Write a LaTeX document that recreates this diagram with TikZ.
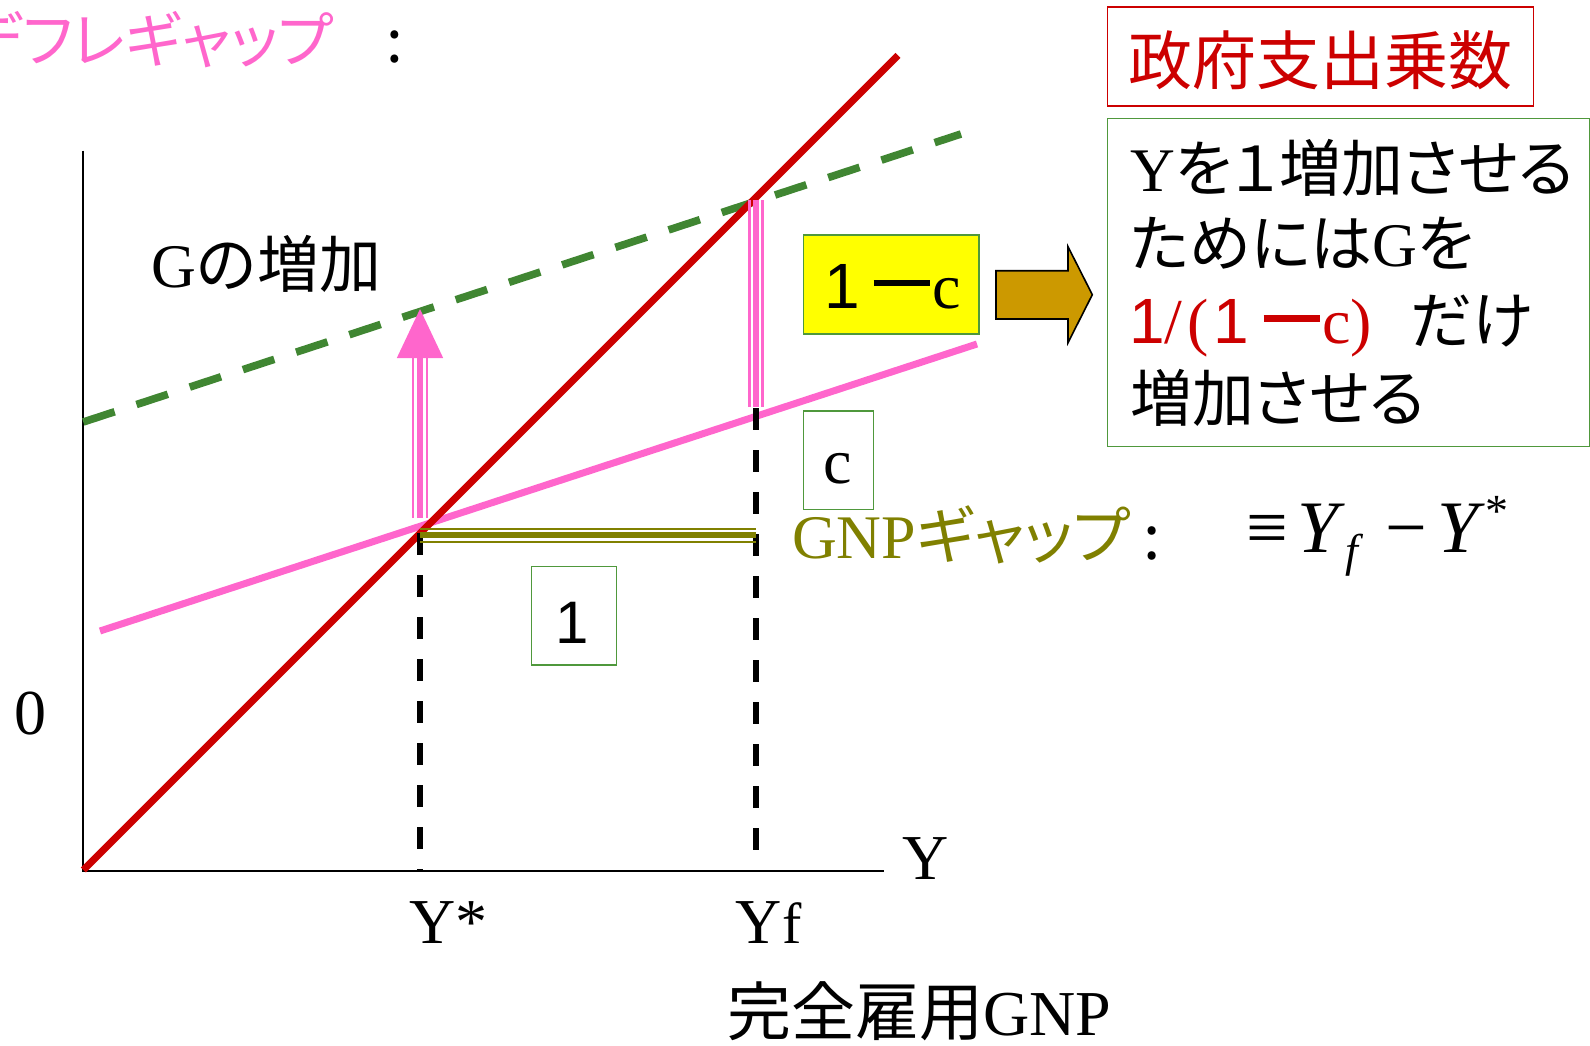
\documentclass[tikz,border=0pt]{standalone}
\usepackage{fontspec}
\setmainfont{Liberation Serif}
\newfontfamily\jp{Noto Sans CJK JP}
\newfontfamily\jpp[RawFeature=+palt]{Noto Sans CJK JP}
\newfontfamily\arial{Liberation Sans}
\newcommand{\longbar}{\hspace{0.22em}\rule[0.34em]{0.88em}{0.1em}\hspace{0.04em}}
\definecolor{cRed}{RGB}{204,0,0}
\definecolor{cGreen}{RGB}{64,134,50}
\definecolor{cPink}{RGB}{255,102,204}
\definecolor{cOlive}{RGB}{128,128,0}
\definecolor{cBoxGreen}{RGB}{79,152,60}
\definecolor{cYellow}{RGB}{255,255,0}
\definecolor{cBrown}{RGB}{204,153,0}
\begin{document}
\begin{tikzpicture}[x=0.5pt,y=-0.5pt,
  axisline/.style={line width=0.9pt,black},
  redline/.style={line width=3.5pt,cRed},
  greendash/.style={line width=3.8pt,cGreen,dash pattern=on 16.5pt off 11.5pt},
  pinkline/.style={line width=3.5pt,cPink},
  blackdash/.style={line width=3.2pt,black,dash pattern=on 11pt off 10pt},
  pinkmid/.style={line width=3.1pt,cPink},
  pinkthin/.style={line width=1.2pt,cPink},
  olivethin/.style={line width=1.2pt,cOlive},
  olivethick/.style={line width=2.7pt,cOlive},
  gbox/.style={draw=cBoxGreen,line width=0.7pt,inner sep=0pt,rectangle},
  lbl/.style={inner sep=0pt,outer sep=0pt},
  f30/.style={font=\fontsize{30}{34}\selectfont},
  f31/.style={font=\fontsize{31}{35}\selectfont},
  f32/.style={font=\fontsize{32}{36}\selectfont},
]
\useasboundingbox (0,0) rectangle (1590,1045);

% coordinates
\coordinate (O) at (83.3,870.7);
\coordinate (yTop) at (83.3,150.7);
\coordinate (xEnd) at (884,870.7);
\coordinate (redA) at (83.3,870);
\coordinate (redB) at (898,55.3);
\coordinate (grA) at (83.3,422);
\coordinate (grB) at (961,134);
\coordinate (pkA) at (100,631);
\coordinate (pkB) at (977,344);
\coordinate (ysTop) at (420,533);
\coordinate (ysBot) at (420,870);
\coordinate (yfTop) at (756,408);
\coordinate (yfBot) at (756,870);
\coordinate (gapL) at (420,535);
\coordinate (gapR) at (756,535);
\coordinate (arrB) at (420,518);
\coordinate (arrH) at (420,358);
\coordinate (arrT) at (420,309);
\coordinate (indT) at (756,200);
\coordinate (indB) at (756,407);

% axes
\draw[axisline] (yTop) -- (O) -- (xEnd);

% curves
\draw[greendash] (grA) -- (grB);
\draw[pinkline] (pkA) -- (pkB);
\draw[redline] (redA) -- (redB);

% black dashed verticals
\draw[blackdash] (ysTop) -- (ysBot);
\draw[blackdash] (yfTop) -- (yfBot);

% GNP gap bars
\draw[olivethin] ([yshift=3.1pt]gapL) -- ([yshift=3.1pt]gapR);
\draw[olivethick] (gapL) -- (gapR);
\draw[olivethin] ([yshift=-3.4pt]gapL) -- ([yshift=-3.4pt]gapR);

% pink arrow (G increase)
\draw[pinkmid] (arrB) -- (arrH);
\draw[pinkthin] ([xshift=-3.4pt]arrB) -- ([xshift=-3.4pt]arrH);
\draw[pinkthin] ([xshift=3.4pt]arrB) -- ([xshift=3.4pt]arrH);
\fill[cPink] (arrT) -- ([xshift=-11.6pt]arrH) -- ([xshift=11.6pt]arrH) -- cycle;

% pink indicator at Yf
\draw[pinkmid] (indT) -- (indB);
\draw[pinkthin] ([xshift=-3.3pt]indT) -- ([xshift=-3.3pt]indB);
\draw[pinkthin] ([xshift=3.2pt]indT) -- ([xshift=3.2pt]indB);

% boxes
\node[gbox,minimum width=42.5pt,minimum height=49.2pt] (boxOne) at (574.2,615.8) {};
\node[lbl,f30,anchor=base] (txtOne) at (572,643) {\arial 1};
\node[gbox,minimum width=35pt,minimum height=49.2pt] (boxC) at (838.3,460.2) {};
\node[lbl,f32,anchor=base] (txtC) at (838,483) {c};
\node[gbox,fill=cYellow,minimum width=87.8pt,minimum height=49.5pt] (boxOmc) at (891.2,284.5) {};
\node[lbl,f32,anchor=base west] (txtOmc) at (824,308) {{\arial 1}\longbar c};

% brown block arrow
\draw[fill=cBrown,draw=black,line width=0.8pt,line join=miter]
  (996,270.7) -- (1068,270.7) -- (1068,246.7) -- (1092.3,294.7) -- (1068,342.7) -- (1068,319) -- (996,319) -- cycle;

% right-hand boxes
\node[draw=cRed,line width=0.8pt,inner sep=0pt,minimum width=213pt,minimum height=49.65pt] (redBox) at (1320.3,56.35) {};
\node[lbl,font=\fontsize{32}{36}\selectfont\jp,text=cRed] (seifu) at (1320,60.5) {政府支出乗数};
\node[gbox,minimum width=241pt,minimum height=164.2pt] (greenBox) at (1348.3,282.5) {};
\node[lbl,f31,anchor=base west] (line1) at (1130,191.7) {Y{\jpp を１増加させる}};
\node[lbl,f31,anchor=base west] (line2) at (1130,266.7) {{\jpp ためには}G{\jpp を}};
\node[lbl,f32,anchor=base west,text=cRed] (line3a) at (1129,343.3) {{\arial 1}/\hspace{0.08em}(\hspace{0.08em}{\arial 1}\longbar c)};
\node[lbl,f31,anchor=base west] (line3b) at (1410,343.3) {\jpp だけ};
\node[lbl,f31,anchor=base west] (line4) at (1130,421) {\jpp 増加させる};

% labels
\node[lbl,font=\fontsize{30}{34}\selectfont\jpp,text=cPink,anchor=east] (defl) at (333,40) {デフレギャップ};
\node[lbl,f30] (deflColon) at (395,47) {\jp :};
\node[lbl,f31,anchor=base west] (gInc) at (151,287) {G{\jp の増加}};
\node[lbl,f32] (zero) at (30,714) {0};
\node[lbl,f32] (yLab) at (925.5,858.5) {Y};
\node[lbl,f32,anchor=base west] (yStar) at (409,943) {Y*};
\node[lbl,f32,anchor=base west] (yF) at (735,943) {Y\hspace{0.02em}{\fontsize{29}{32}\selectfont f}};
\node[lbl,f32,anchor=base west] (kanzen) at (727,1035) {{\jp 完全雇用}GNP};
\node[lbl,f31,anchor=base west,text=cOlive] (gnpGap) at (792,558) {GNP{\jpp ギャップ}};
\node[lbl,f31] (gnpColon) at (1152,543) {\jp :};
\node[lbl,font=\fontsize{37}{40}\selectfont,anchor=base west] (formula) at (1246,552)
  {≡\hspace{5pt}\textit{Y}\raisebox{-7pt}{\fontsize{23}{25}\selectfont\textit{f}}\hspace{11pt}−\hspace{5pt}\textit{Y}\raisebox{13pt}{\fontsize{23}{25}\selectfont *}};
\end{tikzpicture}
\end{document}
